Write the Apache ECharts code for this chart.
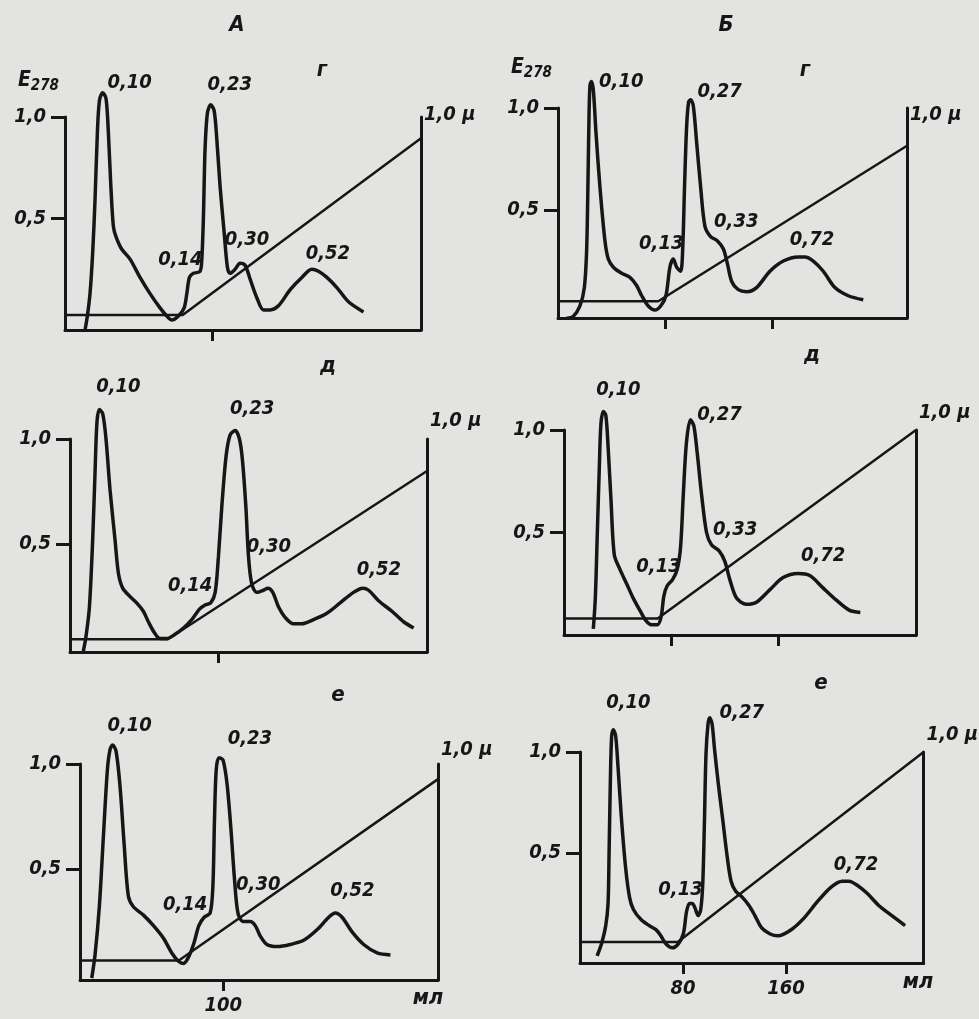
<!DOCTYPE html>
<html>
<head>
<meta charset="utf-8">
<script src="https://cdn.jsdelivr.net/npm/echarts@6/dist/echarts.min.js"></script>
<style>
html,body{margin:0;padding:0;background:#e3e3e1;}
#chart{width:979px;height:1019px;}
</style>
</head>
<body>
<div id="chart"></div>
<script>
// А: г, д, е  —  [мл, E278]
const curveAg = [[13.6,-0.05],[15.2,0.02],[17.0,0.13],[18.8,0.33],[20.4,0.59],[22.0,0.92],[23.4,1.08],[25.6,1.12],[27.9,1.09],[29.5,0.92],[31.1,0.67],[32.9,0.46],[34.7,0.41],[38.5,0.35],[44.2,0.30],[51.0,0.21],[57.8,0.13],[64.6,0.06],[69.2,0.02],[72.6,0.00],[77.1,0.02],[81.0,0.06],[82.8,0.13],[84.6,0.21],[87.3,0.23],[91.8,0.24],[93.0,0.30],[94.1,0.51],[95.2,0.84],[96.8,1.02],[99.1,1.06],[101.4,1.03],[103.2,0.89],[105.4,0.66],[108.2,0.43],[110.4,0.26],[112.2,0.23],[115.6,0.25],[119.0,0.28],[122.4,0.27],[125.9,0.20],[130.4,0.11],[134.9,0.05],[139.5,0.05],[145.1,0.07],[153.1,0.15],[161.0,0.21],[167.8,0.25],[172.3,0.24],[178.0,0.21],[184.8,0.16],[192.7,0.09],[202.9,0.04]];
const curveAd = [[9.0,-0.01],[10.8,0.06],[13.1,0.20],[15.3,0.52],[16.9,0.84],[18.2,1.08],[19.8,1.14],[22.1,1.12],[24.3,1.00],[27.0,0.76],[30.4,0.52],[32.7,0.36],[35.6,0.29],[40.5,0.25],[45.0,0.22],[49.5,0.18],[52.9,0.13],[56.8,0.08],[60.8,0.05],[65.3,0.05],[70.9,0.07],[76.6,0.10],[82.2,0.14],[87.4,0.19],[91.2,0.21],[95.0,0.22],[98.0,0.27],[100.2,0.44],[102.5,0.68],[105.4,0.92],[108.1,1.02],[111.5,1.04],[114.4,1.00],[116.4,0.90],[118.7,0.68],[120.5,0.44],[122.7,0.31],[126.1,0.27],[130.6,0.28],[133.6,0.29],[136.9,0.27],[140.8,0.20],[145.3,0.15],[150.9,0.12],[156.5,0.12],[164.4,0.14],[173.4,0.17],[182.4,0.22],[191.4,0.27],[197.7,0.29],[201.6,0.28],[208.3,0.23],[217.3,0.18],[225.2,0.13],[232.0,0.10]];
const curveAe = [[8.2,-0.02],[10.5,0.09],[13.5,0.32],[16.3,0.65],[19.1,0.97],[21.0,1.07],[22.8,1.09],[25.2,1.06],[28.0,0.89],[30.8,0.62],[33.8,0.37],[37.3,0.32],[44.3,0.28],[51.3,0.23],[58.3,0.17],[64.1,0.10],[68.8,0.06],[72.3,0.05],[75.8,0.08],[79.7,0.15],[83.0,0.23],[86.7,0.27],[90.9,0.29],[92.8,0.42],[93.9,0.73],[95.1,0.97],[97.0,1.03],[99.8,1.02],[102.6,0.91],[105.4,0.69],[107.9,0.45],[110.3,0.29],[113.8,0.25],[118.9,0.25],[122.4,0.23],[125.9,0.18],[130.5,0.14],[137.5,0.13],[146.9,0.14],[156.2,0.16],[165.5,0.21],[173.7,0.27],[178.3,0.29],[183.0,0.27],[190.0,0.20],[198.1,0.14],[207.5,0.10],[216.8,0.09]];
// Б: г, д, е
const curveBg = [[6.5,-0.03],[11.5,-0.02],[16.4,0.03],[19.7,0.12],[21.4,0.30],[22.4,0.63],[23.2,0.96],[23.9,1.11],[24.9,1.13],[26.4,1.09],[28.4,0.88],[31.4,0.61],[35.1,0.35],[37.6,0.26],[41.4,0.22],[47.6,0.19],[53.8,0.17],[58.8,0.13],[62.6,0.08],[67.5,0.03],[72.5,0.01],[76.8,0.03],[80.7,0.08],[83.7,0.22],[86.2,0.26],[88.7,0.22],[91.7,0.20],[93.2,0.30],[94.7,0.63],[96.2,0.91],[97.7,1.03],[99.2,1.04],[101.2,1.01],[103.7,0.83],[106.7,0.61],[109.9,0.42],[114.1,0.37],[119.1,0.35],[123.6,0.31],[126.6,0.24],[129.9,0.15],[134.8,0.11],[141.1,0.10],[148.5,0.12],[158.5,0.20],[168.5,0.25],[179.7,0.27],[184.7,0.27],[190.9,0.25],[198.4,0.20],[207.1,0.12],[217.1,0.08],[228.3,0.06]];
const curveBd = [[21.9,0.03],[23.4,0.18],[24.9,0.50],[26.4,0.82],[27.6,1.03],[29.4,1.09],[31.3,1.07],[33.1,0.90],[35.1,0.66],[37.6,0.39],[41.8,0.32],[46.8,0.25],[51.7,0.18],[56.7,0.12],[61.2,0.07],[65.4,0.05],[69.7,0.05],[72.6,0.09],[74.6,0.19],[77.1,0.24],[81.1,0.27],[84.6,0.32],[87.1,0.43],[89.1,0.68],[91.5,0.94],[94.5,1.05],[97.0,1.02],[99.5,0.89],[102.7,0.69],[106.5,0.50],[110.2,0.44],[115.9,0.41],[120.1,0.36],[123.9,0.27],[128.9,0.18],[136.3,0.15],[143.8,0.16],[153.7,0.22],[163.7,0.28],[174.9,0.30],[183.6,0.29],[193.5,0.23],[203.5,0.17],[213.4,0.12],[221.4,0.11]];
const curveBe = [[13.3,-0.01],[16.7,0.05],[20.0,0.14],[21.8,0.25],[22.6,0.50],[23.6,0.86],[24.6,1.08],[25.9,1.11],[27.7,1.08],[29.5,0.93],[32.1,0.68],[35.4,0.43],[38.5,0.28],[41.5,0.22],[47.4,0.17],[53.8,0.14],[59.0,0.12],[62.8,0.09],[66.7,0.05],[71.8,0.03],[76.4,0.05],[80.3,0.10],[82.8,0.21],[85.1,0.25],[87.2,0.25],[89.2,0.23],[91.8,0.19],[93.8,0.22],[95.4,0.35],[96.7,0.66],[97.9,0.99],[99.5,1.14],[100.8,1.17],[102.6,1.14],[104.6,1.01],[107.7,0.83],[111.0,0.66],[114.4,0.48],[117.4,0.36],[121.0,0.31],[126.2,0.28],[131.3,0.24],[135.9,0.19],[141.0,0.13],[147.4,0.10],[153.8,0.09],[164.1,0.12],[174.4,0.18],[184.6,0.26],[194.9,0.33],[203.8,0.36],[209.0,0.36],[215.4,0.34],[223.1,0.30],[232.1,0.24],[242.3,0.19],[252.6,0.14]];

// градиент [мл, μ]
const gradAg = [[0,0.07],[80,0.07],[242,0.90]];
const gradAd = [[0,0.06],[66,0.06],[241,0.85]];
const gradAe = [[0,0.09],[69,0.09],[250,0.93]];
const gradBg = [[0,0.08],[75,0.08],[261,0.82]];
const gradBd = [[0,0.08],[70,0.08],[263,1.0]];
const gradBe = [[0,0.10],[76,0.10],[267,1.0]];

// пики (мл) и их молярность
const peaksAg = [25.6, 99.1, 87.3, 119.0, 167.8];
const peaksAd = [19.8, 111.5, 91.2, 133.6, 197.7];
const peaksAe = [22.8, 97.0, 90.9, 118.9, 178.3];
const peaksBg = [24.9, 99.2, 86.2, 119.1, 184.7];
const peaksBd = [29.4, 94.5, 81.1, 115.9, 174.9];
const peaksBe = [25.9, 100.8, 85.1, 209.0];
const molA = ['0,10', '0,23', '0,14', '0,30', '0,52'];
const molB = ['0,10', '0,27', '0,13', '0,33', '0,72'];
const molBe = ['0,10', '0,27', '0,13', '0,72'];

const ticksA = [100];
const ticksB = [80, 160];
const eTicks = [0.5, 1.0];

const INK = '#161616';
const FONT = '"DejaVu Sans Condensed", "DejaVu Sans", sans-serif';
const txt = {color: INK, fontSize: 20, fontStyle: 'italic', fontWeight: 'bold', fontFamily: FONT};

const panels = [
    {curve: curveAg, grad: gradAg, peaks: peaksAg, mol: molA, ticks: ticksA, grid: {left: 65, top: 117, width: 356, height: 213}, xMax: 242, yMin: -0.049, muGap: 2, eGap: 36,
     off: [[27,-10],[19,-20],[-13,-14],[7,-23],[16,-15]]},
    {curve: curveBg, grad: gradBg, peaks: peaksBg, mol: molB, ticks: ticksB, grid: {left: 558, top: 108, width: 349, height: 210}, xMax: 261, yMin: -0.029, muGap: -7, eGap: 40,
     off: [[30,0],[29,-8],[-12,-15],[19,-19],[7,-17]]},
    {curve: curveAd, grad: gradAd, peaks: peaksAd, mol: molA, ticks: ticksA, grid: {left: 70, top: 439, width: 357, height: 213}, xMax: 241, yMin: -0.014, muGap: 18,
     off: [[19,-23],[17,-22],[-15,-19],[1,-41],[16,-18]]},
    {curve: curveBd, grad: gradBd, peaks: peaksBd, mol: molB, ticks: ticksB, grid: {left: 564, top: 430, width: 352, height: 205}, xMax: 263, yMin: 0, muGap: 17,
     off: [[15,-22],[29,-5],[-14,-13],[16,-21],[25,-18]]},
    {curve: curveAe, grad: gradAe, peaks: peaksAe, mol: molA, ticks: ticksA, grid: {left: 80, top: 764, width: 358, height: 216}, xMax: 250, yMin: -0.029, muGap: 14, bottom: true,
     off: [[17,-19],[31,-19],[-25,-8],[8,-37],[17,-22]]},
    {curve: curveBe, grad: gradBe, peaks: peaksBe, mol: molBe, ticks: ticksB, grid: {left: 580, top: 752, width: 347, height: 211}, xMax: 267, yMin: -0.045, muGap: 17, bottom: true,
     off: [[15,-27],[32,-5],[-9,-14],[7,-16]]}
];

let myChart = echarts.init(document.getElementById('chart'));
let option = {
    backgroundColor: '#e3e3e1',
    animation: false,
    grid: [], xAxis: [], yAxis: [], series: [],
    graphic: []
};

panels.forEach(function(p, i){
    option.grid.push(p.grid);
    option.xAxis.push({
        type: 'value', gridIndex: i, min: 0, max: p.xMax,
        axisLine: {onZero: false, lineStyle: {color: INK, width: 3}},
        axisTick: {show: true, customValues: p.ticks, length: 11, lineStyle: {color: INK, width: 3}},
        axisLabel: Object.assign({show: !!p.bottom, customValues: p.ticks, margin: 16}, txt),
        splitLine: {show: false}
    });
    // E278 слева
    option.yAxis.push({
        type: 'value', gridIndex: i, min: p.yMin, max: 1.0,
        axisLine: {show: true, onZero: false, lineStyle: {color: INK, width: 3}},
        axisTick: {show: true, customValues: eTicks, length: 14, lineStyle: {color: INK, width: 3}},
        axisLabel: Object.assign({customValues: eTicks, margin: 19, formatter: function(v){ return v.toFixed(1).replace('.', ','); }}, txt),
        splitLine: {show: false},
        name: p.eGap ? '{e|E}{s|278}' : '',
        nameLocation: 'end',
        nameGap: p.eGap || 0,
        nameTextStyle: {align: 'right', verticalAlign: 'middle', padding: [0, 6, 0, 0],
            rich: {
                e: Object.assign({}, txt, {fontSize: 21}),
                s: Object.assign({}, txt, {fontSize: 15, padding: [11, 0, 0, 0]})
            }}
    });
    // μ справа
    option.yAxis.push({
        type: 'value', gridIndex: i, min: 0, max: 1, position: 'right',
        axisLine: {show: true, onZero: false, lineStyle: {color: INK, width: 3}},
        axisTick: {show: false}, axisLabel: {show: false}, splitLine: {show: false},
        name: '1,0 μ', nameLocation: 'end', nameGap: p.muGap,
        nameTextStyle: Object.assign({align: 'left', verticalAlign: 'middle', padding: [0, 0, 0, 3]}, txt)
    });

    option.series.push({
        type: 'line', xAxisIndex: i, yAxisIndex: 2 * i,
        data: p.curve, smooth: 0.3, showSymbol: false, clip: false,
        lineStyle: {color: INK, width: 3.5}
    });
    option.series.push({
        type: 'line', xAxisIndex: i, yAxisIndex: 2 * i + 1,
        data: p.grad, showSymbol: false, clip: false,
        lineStyle: {color: INK, width: 2.5}
    });
    option.series.push({
        type: 'scatter', xAxisIndex: i, yAxisIndex: 2 * i,
        symbolSize: 0, clip: false, silent: true,
        itemStyle: {opacity: 1},
        label: Object.assign({show: true, position: 'inside', formatter: '{b}', opacity: 1, textBorderWidth: 0}, txt),
        data: p.peaks.map(function(ml, k){
            let pt = p.curve.find(function(d){ return d[0] === ml; });
            return {name: p.mol[k], value: [ml, pt[1]], label: {offset: p.off[k]}};
        })
    });
});

// подписи панелей
let marks = [['А', 237, 25], ['Б', 726, 25], ['г', 322, 70], ['г', 805, 70], ['д', 328, 366], ['д', 812, 355], ['е', 338, 695], ['е', 821, 683], ['мл', 428, 998], ['мл', 918, 982]];
marks.forEach(function(m){
    option.graphic.push({
        type: 'text', x: m[1], y: m[2],
        style: {text: m[0], fill: INK, fontSize: 22, fontStyle: 'italic', fontWeight: 'bold', fontFamily: FONT, align: 'center', verticalAlign: 'middle'}
    });
});

myChart.setOption(option);
</script>
</body>
</html>
